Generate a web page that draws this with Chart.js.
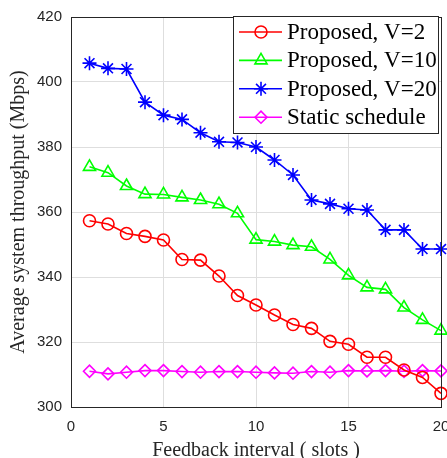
<!DOCTYPE html>
<html>
<head>
<meta charset="utf-8">
<script src="https://cdn.jsdelivr.net/npm/chart.js@4.4.1/dist/chart.umd.min.js"></script>
<style>
  html, body { margin: 0; padding: 0; background: #fff; }
  #wrap { width: 447px; height: 458px; }
</style>
</head>
<body>
<div id="wrap"><canvas id="chart" width="447" height="458"></canvas></div>
<script>
// ── Datos ──
const slots = [1, 2, 3, 4, 5, 6, 7, 8, 9, 10, 11, 12, 13, 14, 15, 16, 17, 18, 19, 20];
const proposedV2 = [357.3, 356.3, 353.4, 352.5, 351.4, 345.4, 345.2, 340.3, 334.3, 331.4, 328.3, 325.4, 324.2, 320.2, 319.3, 315.3, 315.3, 311.4, 309.1, 304.2];
const proposedV10 = [373.9, 372.1, 368.0, 365.5, 365.4, 364.5, 363.7, 362.4, 359.6, 351.5, 350.9, 349.8, 349.3, 345.4, 340.5, 336.8, 336.2, 330.6, 326.8, 323.5];
const proposedV20 = [405.8, 404.2, 404.0, 393.8, 389.8, 388.5, 384.4, 381.6, 381.4, 380.0, 376.0, 371.4, 363.7, 362.5, 361.0, 360.6, 354.5, 354.5, 348.6, 348.6];
const staticSchedule = [311.0, 310.2, 310.7, 311.2, 311.2, 310.9, 310.7, 310.9, 310.9, 310.7, 310.5, 310.4, 310.9, 310.7, 311.2, 311.1, 311.2, 311.0, 311.2, 311.1];

const seriesLabels = ['Proposed, V=2', 'Proposed, V=10', 'Proposed, V=20', 'Static schedule'];
const xTicks = [0, 5, 10, 15, 20];
const yTicks = [300, 320, 340, 360, 380, 400, 420];

const toPoints = (ys) => slots.map((x, i) => ({ x, y: ys[i] }));

const SERIF = '"Liberation Serif", "Times New Roman", serif';
const SANS = '"Liberation Sans", Arial, sans-serif';

function serie(label, ys, color, style, radius) {
  return {
    label,
    data: toPoints(ys),
    borderColor: color,
    backgroundColor: 'rgba(0,0,0,0)',
    pointBorderColor: color,
    pointBackgroundColor: 'rgba(0,0,0,0)',
    pointStyle: style,
    pointRadius: radius,
    pointBorderWidth: 1.6,
    borderWidth: 1.6,
    tension: 0,
    clip: false,
  };
}

// ── Leyenda dentro del área (estilo MATLAB) ──
const boxLegend = {
  id: 'boxLegend',
  afterDraw(chart) {
    const { ctx, chartArea } = chart;
    // marco del área de trazado
    ctx.save();
    ctx.strokeStyle = '#262626';
    ctx.lineWidth = 1;
    ctx.strokeRect(chartArea.left + 0.5, chartArea.top + 0.5,
      chartArea.right - chartArea.left, chartArea.bottom - chartArea.top);

    const x0 = 233.5, y0 = 16.5, w = 205, h = 117;
    ctx.fillStyle = '#fff';
    ctx.fillRect(x0, y0, w, h);
    ctx.strokeRect(x0, y0, w, h);

    ctx.font = '23px ' + SERIF;
    ctx.textBaseline = 'middle';
    chart.data.datasets.forEach((ds, i) => {
      const cy = 32 + i * 28.4;
      ctx.strokeStyle = ds.borderColor;
      ctx.lineWidth = 1.6;
      ctx.beginPath();
      ctx.moveTo(239, cy);
      ctx.lineTo(282, cy);
      ctx.stroke();
      ctx.fillStyle = 'rgba(0,0,0,0)';
      Chart.helpers.drawPoint(ctx, {
        pointStyle: ds.pointStyle,
        radius: ds.pointRadius,
        borderWidth: 1.6,
        rotation: 0,
      }, 261, cy);
      ctx.fillStyle = '#000';
      ctx.fillText(ds.label, 287, cy + 1);
    });
    ctx.restore();
  }
};

const ctx = document.getElementById('chart');
new Chart(ctx, {
  type: 'line',
  data: {
    datasets: [
      serie(seriesLabels[0], proposedV2, '#ff0000', 'circle', 6),
      serie(seriesLabels[1], proposedV10, '#00ff00', 'triangle', 7),
      serie(seriesLabels[2], proposedV20, '#0000ff', 'star', 7),
      serie(seriesLabels[3], staticSchedule, '#ff00ff', 'rectRot', 6),
    ]
  },
  options: {
    responsive: false,
    animation: false,
    layout: { autoPadding: false, padding: { left: 0, right: 6, top: 17, bottom: 0 } },
    plugins: {
      legend: { display: false },
      tooltip: { enabled: false },
    },
    scales: {
      x: {
        type: 'linear',
        min: 0,
        max: 20,
        afterBuildTicks: (s) => { s.ticks = xTicks.map(v => ({ value: v })); },
        afterFit: (s) => { s.height = 51; s.paddingLeft = 0; s.paddingRight = 0; },
        grid: { color: '#dedede', drawTicks: false, lineWidth: 1 },
        border: { color: '#262626', width: 1 },
        ticks: {
          color: '#262626',
          font: { family: SANS, size: 15 },
          padding: 11,
          maxRotation: 0,
          autoSkip: false,
        },
        title: {
          display: true,
          text: 'Feedback interval ( slots )',
          color: '#262626',
          font: { family: SERIF, size: 20, lineHeight: 1 },
          padding: { top: 0, bottom: -3 },
        },
      },
      y: {
        type: 'linear',
        min: 300,
        max: 420,
        afterBuildTicks: (s) => { s.ticks = yTicks.map(v => ({ value: v })); },
        afterFit: (s) => { s.width = 71; s.paddingTop = 0; s.paddingBottom = 0; },
        grid: { color: '#dedede', drawTicks: false, lineWidth: 1 },
        border: { color: '#262626', width: 1 },
        ticks: {
          color: '#262626',
          font: { family: SANS, size: 15 },
          padding: 9,
          autoSkip: false,
        },
        title: {
          display: true,
          text: 'Average system throughput (Mbps)',
          color: '#262626',
          font: { family: SERIF, size: 20, lineHeight: 1 },
          padding: { top: 9, bottom: 0 },
        },
      },
    },
  },
  plugins: [boxLegend],
});
</script>
</body>
</html>
